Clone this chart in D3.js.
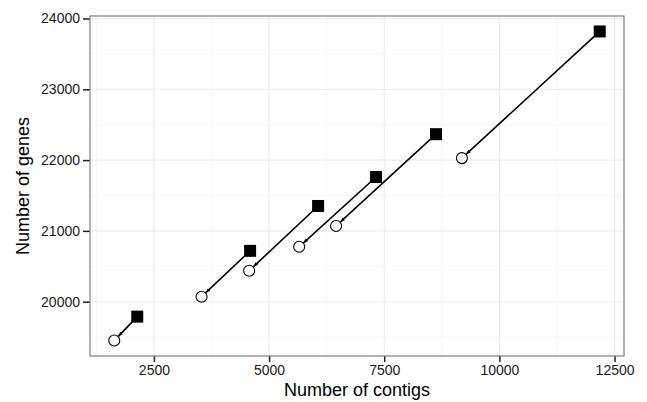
<!DOCTYPE html>
<html lang="en">
<head>
<meta charset="utf-8">
<title>Contigs vs genes</title>
<script src="https://d3js.org/d3.v7.min.js"></script>
<style>
  body { margin: 0; background: #fff; }
  svg { font-family: "Liberation Sans", Arial, sans-serif; }
  .tick text { font-size: 14px; fill: #1a1a1a; }
  .axis-title { font-size: 18px; fill: #000; }
</style>
</head>
<body>
<div id="chart"></div>
<script>
// circles = "before", squares = "after"
const fromContigs = [2138, 4588, 6064, 7322, 8624, 12178];
const fromGenes   = [19789, 20718, 21352, 21761, 22366, 23817];
const toContigs   = [1639, 3534, 4567, 5653, 6455, 9186];
const toGenes     = [19451, 20070, 20437, 20775, 21070, 22028];
const xTicks = [2500, 5000, 7500, 10000, 12500];
const yTicks = [20000, 21000, 22000, 23000, 24000];

const w = 647, h = 402;
const m = {top: 16, right: 23, bottom: 46, left: 90};
const iw = w - m.left - m.right, ih = h - m.top - m.bottom;

const svg = d3.select("#chart").append("svg")
    .attr("width", w).attr("height", h);

const allX = fromContigs.concat(toContigs), allY = fromGenes.concat(toGenes);
const xr = d3.extent(allX), yr = d3.extent(allY);
const xpad = (xr[1] - xr[0]) * 0.05, ypad = (yr[1] - yr[0]) * 0.05;

const x = d3.scaleLinear().domain([xr[0] - xpad, xr[1] + xpad]).range([0, iw]);
const y = d3.scaleLinear().domain([yr[0] - ypad, yr[1] + ypad]).range([ih, 0]);

const g = svg.append("g").attr("transform", `translate(${m.left},${m.top})`);

// minor grid
const xMinor = xTicks.map(t => t - 1250).concat([xTicks[xTicks.length - 1] + 1250])
    .filter(t => t > x.domain()[0] && t < x.domain()[1]);
const yMinor = yTicks.map(t => t - 500).concat([yTicks[yTicks.length - 1] + 500])
    .filter(t => t > y.domain()[0] && t < y.domain()[1]);

g.selectAll(".xminor").data(xMinor).enter().append("line")
    .attr("x1", d => x(d)).attr("x2", d => x(d)).attr("y1", 0).attr("y2", ih)
    .attr("stroke", "#f5f5f5").attr("stroke-width", 1);
g.selectAll(".yminor").data(yMinor).enter().append("line")
    .attr("y1", d => y(d)).attr("y2", d => y(d)).attr("x1", 0).attr("x2", iw)
    .attr("stroke", "#f5f5f5").attr("stroke-width", 1);
g.selectAll(".xmajor").data(xTicks).enter().append("line")
    .attr("x1", d => x(d)).attr("x2", d => x(d)).attr("y1", 0).attr("y2", ih)
    .attr("stroke", "#ebebeb").attr("stroke-width", 1.1);
g.selectAll(".ymajor").data(yTicks).enter().append("line")
    .attr("y1", d => y(d)).attr("y2", d => y(d)).attr("x1", 0).attr("x2", iw)
    .attr("stroke", "#ebebeb").attr("stroke-width", 1.1);

// axes
const xAxis = g.append("g").attr("transform", `translate(0,${ih})`)
    .call(d3.axisBottom(x).tickValues(xTicks).tickSize(6).tickPadding(3).tickFormat(d3.format("d")));
const yAxis = g.append("g")
    .call(d3.axisLeft(y).tickValues(yTicks).tickSize(7).tickPadding(3).tickFormat(d3.format("d")));
[xAxis, yAxis].forEach(a => {
  a.select(".domain").remove();
  a.selectAll(".tick line").attr("stroke", "#222").attr("stroke-width", 1.5);
});

// panel border
g.append("rect").attr("width", iw).attr("height", ih)
    .attr("fill", "none").attr("stroke", "#7f7f7f").attr("stroke-width", 1.2);

// arrow marker
svg.append("defs").append("marker")
    .attr("id", "arr").attr("viewBox", "0 0 10 10")
    .attr("refX", 10).attr("refY", 5)
    .attr("markerWidth", 5).attr("markerHeight", 5)
    .attr("markerUnits", "userSpaceOnUse")
    .attr("orient", "auto")
  .append("path").attr("d", "M0,1.5 L10,5 L0,8.5 Z").attr("fill", "#000");

const pairs = fromContigs.map((c, i) => ({
  x0: c, y0: fromGenes[i], x1: toContigs[i], y1: toGenes[i]
}));

const r = 5.5;
g.selectAll(".seg").data(pairs).enter().append("line")
    .attr("x1", d => x(d.x0)).attr("y1", d => y(d.y0))
    .attr("x2", d => {
      const dx = x(d.x1) - x(d.x0), dy = y(d.y1) - y(d.y0), L = Math.hypot(dx, dy);
      return x(d.x1) - dx / L * r;
    })
    .attr("y2", d => {
      const dx = x(d.x1) - x(d.x0), dy = y(d.y1) - y(d.y0), L = Math.hypot(dx, dy);
      return y(d.y1) - dy / L * r;
    })
    .attr("stroke", "#000").attr("stroke-width", 1.6)
    .attr("marker-end", "url(#arr)");

g.selectAll(".sq").data(pairs).enter().append("rect")
    .attr("x", d => x(d.x0) - 6).attr("y", d => y(d.y0) - 6)
    .attr("width", 12).attr("height", 12).attr("fill", "#000");

g.selectAll(".circ").data(pairs).enter().append("circle")
    .attr("cx", d => x(d.x1)).attr("cy", d => y(d.y1)).attr("r", r)
    .attr("fill", "none").attr("stroke", "#000").attr("stroke-width", 1.1);

// titles
svg.append("text").attr("class", "axis-title")
    .attr("x", m.left + iw / 2).attr("y", h - 6)
    .attr("text-anchor", "middle").text("Number of contigs");
svg.append("text").attr("class", "axis-title")
    .attr("transform", `translate(29,${m.top + ih / 2}) rotate(-90)`)
    .attr("text-anchor", "middle").text("Number of genes");
</script>
</body>
</html>
